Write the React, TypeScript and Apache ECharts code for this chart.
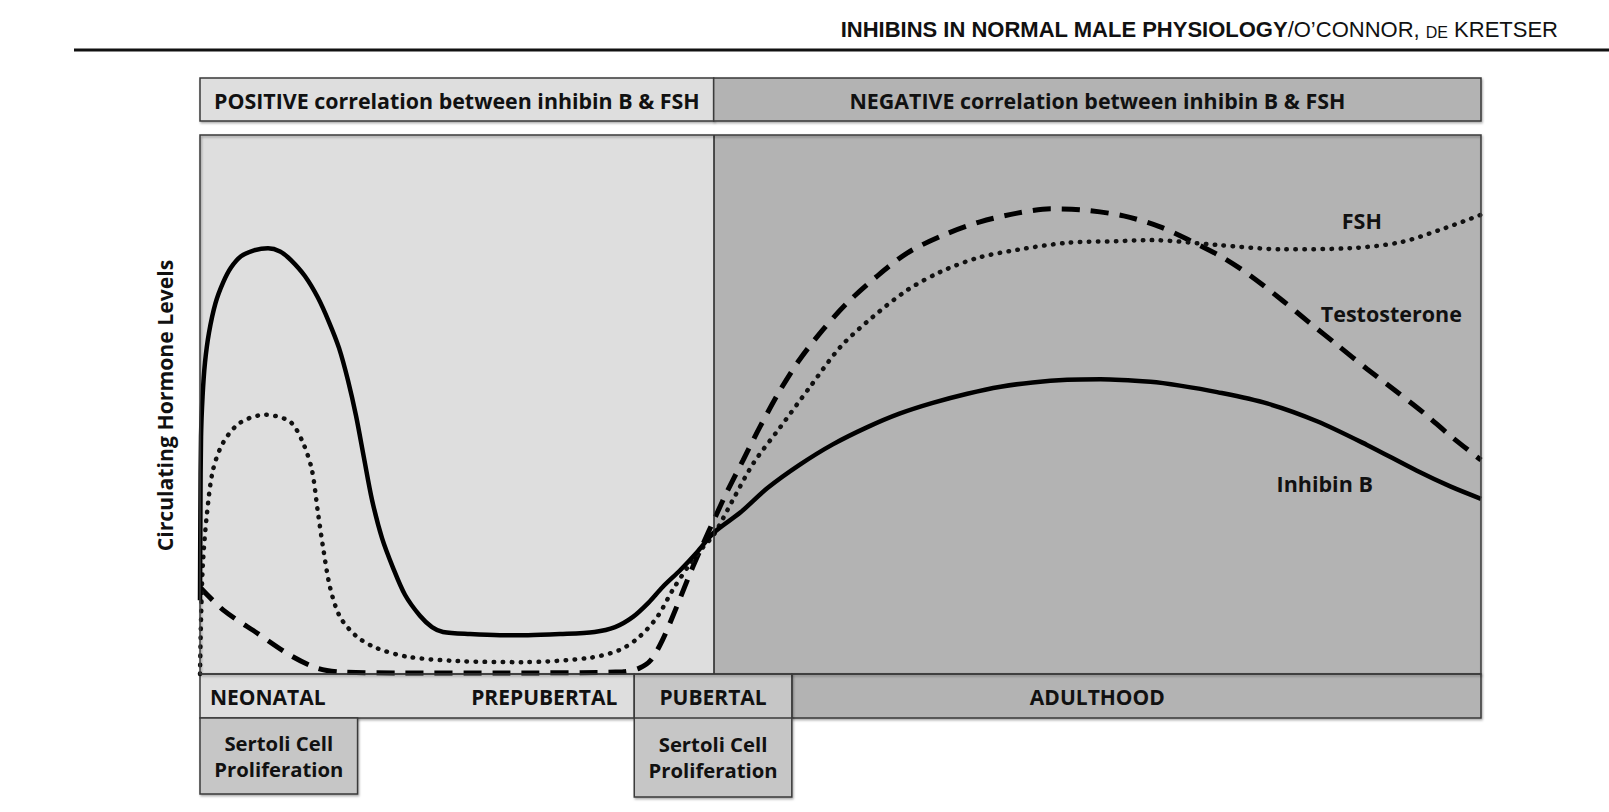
import React, { useEffect, useRef } from "react";
import * as echarts from "echarts";

// Phase boundaries on the shared 0–100 life-course axis
const positiveEnd = 40.1; // end of positive correlation / start of negative
const prepubertalEnd = 33.9;
const pubertalEnd = 46.2;
const sertoliEarlyEnd = 12.3;

const inhibinB: [number, number][] = [
  [0, 13.7], [0.03, 30], [0.08, 44], [0.2, 51.5], [0.39, 57.8], [0.7, 63.3], [1.21, 68.8], [1.8, 72.6],
  [2.42, 75.4], [3.2, 77.5], [4.22, 78.6], [5.31, 79], [6.25, 78.4], [7.1, 76.8], [8.2, 73.8], [9.21, 69.8],
  [10.07, 65.3], [10.85, 60.5], [11.55, 54.5], [12.18, 47.9], [12.8, 40.1], [13.43, 32.3], [14.21, 25.2],
  [15.07, 19.7], [16, 14.7], [17.17, 10.8], [18.11, 8.7], [18.97, 7.8], [21.08, 7.4], [23.42, 7.2],
  [25.6, 7.2], [28.1, 7.4], [30.8, 7.8], [32.4, 8.7], [33.8, 10.6], [35, 13.2], [36.1, 16.1], [37.5, 19.3],
  [38.8, 22.6], [40.1, 26.2], [42.2, 30], [44.3, 34.5], [46.8, 38.8], [49.4, 42.6], [52.1, 45.8],
  [54.6, 48.3], [57.2, 50.3], [59.9, 52], [62.5, 53.3], [65, 54.1], [67.7, 54.6], [70.3, 54.7],
  [74.2, 54.2], [76.5, 53.5], [79.4, 52.3], [83.3, 50.2], [87.2, 46.9], [91.1, 42.5], [95, 37.7],
  [97.6, 34.8], [100, 32.5],
];

const testosterone: [number, number][] = [
  [0, 16.1], [1.8, 11.9], [4.45, 7.6], [7.03, 3.5], [9.13, 1.1], [10.9, 0.4], [15.6, 0.2], [23.4, 0.2],
  [33, 0.4], [34.3, 1.1], [35.2, 2.6], [36.1, 6.3], [37.2, 12.4], [38.3, 18.9], [39.3, 24.3], [40.2, 29],
  [41.1, 33.6], [42.4, 39.7], [43.7, 45.8], [45.3, 52.7], [46.8, 58.3], [48.6, 63.8], [50.5, 68.8],
  [52.8, 73.7], [55.2, 78.1], [58, 81.4], [60.9, 83.9], [63.8, 85.5], [66.4, 86.3], [68.9, 86.1],
  [72.1, 85], [74.9, 83], [77.3, 80.4], [79.9, 77.2], [82, 73.9], [84.5, 69.3], [86.6, 65.2],
  [88.8, 61], [91.1, 56.6], [93.4, 52.4], [95.5, 48.5], [97.6, 44.2], [100, 39.7],
];

const fsh: [number, number][] = [
  [0, 0], [0.08, 10], [0.23, 20.6], [0.55, 29.9], [1.01, 37.8], [1.8, 42.9], [3.12, 46.6], [5.07, 48.1],
  [7.03, 46.8], [8.04, 42.9], [8.74, 37.8], [9.21, 29.9], [9.6, 23.6], [10.15, 16.1], [10.93, 10.6],
  [12.26, 6.9], [13.8, 4.8], [16.2, 3.2], [20.1, 2.4], [25.2, 2.2], [30.4, 3], [32.8, 4.5], [34.3, 6.9],
  [35.7, 10.6], [36.9, 15.6], [38.3, 20.6], [39.3, 23.6], [40.1, 25.8], [41.6, 32.3], [43.2, 39.1],
  [45.3, 45.8], [47.6, 53.2], [50, 60.7], [52.5, 66.2], [55.2, 71.2], [57.8, 74.6], [60.7, 77.2],
  [63.8, 78.7], [67.7, 80], [71.6, 80.3], [74.2, 80.5], [79.4, 79.6], [84.5, 78.8], [89.8, 79],
  [93.7, 80.1], [96.8, 82.4], [100, 85.2],
];

const curveLabels = [
  { name: "FSH", x: 90.7, y: 84.2 },
  { name: "Testosterone", x: 93.0, y: 66.8 },
  { name: "Inhibin B", x: 87.8, y: 35.3 },
];

const correlationLabels = [
  "POSITIVE correlation between inhibin B & FSH",
  "NEGATIVE correlation between inhibin B & FSH",
];
const phaseLabels = ["NEONATAL", "PREPUBERTAL", "PUBERTAL", "ADULTHOOD"];
const sertoliLabel = "Sertoli Cell\nProliferation";
const yAxisTitle = "Circulating Hormone Levels";
const headerBold = "INHIBINS IN NORMAL MALE PHYSIOLOGY";
const headerRest = ["/O\u2019CONNOR, ", "DE", " KRETSER"];

const FONT = "'Open Sans', 'Noto Sans', sans-serif";
const HFONT = "'Liberation Sans', Arial, sans-serif";
const LIGHT = "#dedede";
const MID = "#c6c6c6";
const DARK = "#b3b3b3";
const EDGE = "#3a3a3a";

export default function App() {
  const ref = useRef<HTMLDivElement>(null);

  useEffect(() => {
    if (!ref.current) return;
    const chart = echarts.init(ref.current, undefined, { renderer: "svg" });

    const lineBase = { type: "line" as const, smooth: 0.3, symbol: "none", clip: false, silent: true };

    chart.setOption({
      animation: false,
      grid: { left: 200, top: 135, width: 1281, height: 539, show: false },
      xAxis: { type: "value", min: 0, max: 100, show: false },
      yAxis: { type: "value", min: 0, max: 100, show: false },
      series: [
        {
          ...lineBase,
          name: "Inhibin B",
          data: inhibinB,
          z: 4,
          lineStyle: { color: "#000", width: 4.5, type: "solid" },
          markArea: {
            silent: true,
            z: 1,
            data: [
              [{ xAxis: 0, itemStyle: { color: LIGHT } }, { xAxis: positiveEnd }],
              [{ xAxis: positiveEnd, itemStyle: { color: DARK } }, { xAxis: 100 }],
            ],
          },
          markLine: {
            silent: true,
            symbol: "none",
            label: { show: false },
            lineStyle: { color: "#222", width: 1.5, type: "solid" },
            data: [{ xAxis: positiveEnd }],
          },
        },
        {
          ...lineBase,
          name: "Testosterone",
          data: testosterone,
          z: 3,
          lineStyle: { color: "#000", width: 5, type: [18, 11], cap: "butt" },
        },
        {
          ...lineBase,
          name: "FSH",
          data: fsh,
          z: 3,
          lineStyle: { color: "#111", width: 4.5, type: [0.5, 8.5], cap: "round" },
        },
      ],
    });

    const px = (v: number) => chart.convertToPixel({ xAxisIndex: 0 }, v) as number;
    const py = (v: number) => chart.convertToPixel({ yAxisIndex: 0 }, v) as number;

    const x0 = px(0);
    const x1 = px(100);
    const xDiv = px(positiveEnd);
    const xPre = px(prepubertalEnd);
    const xPub = px(pubertalEnd);
    const xSer = px(sertoliEarlyEnd);
    const yTop = py(100);
    const yBot = py(0);

    const bandTop = 78;
    const bandTopH = 43;
    const bandBotH = 44;
    const boxH = 76;

    const shadow = { shadowBlur: 2, shadowOffsetX: 1, shadowOffsetY: 1.5, shadowColor: "rgba(0,0,0,0.35)" };
    const rect = (x: number, y: number, w: number, h: number, fill: string, z = 1, extra: any = {}) => ({
      type: "rect",
      z,
      silent: true,
      shape: { x, y, width: w, height: h },
      style: { fill, stroke: EDGE, lineWidth: 1.5, ...extra },
    });
    const txt = (text: string, x: number, y: number, size: number, align = "center", extra: any = {}) => ({
      type: "text",
      z: 20,
      silent: true,
      x,
      y,
      style: {
        text,
        fill: "#111",
        font: `bold ${size}px ${FONT}`,
        align,
        verticalAlign: "middle",
        ...extra,
      },
    });

    const graphics: any[] = [
      // header
      {
        type: "text",
        z: 20,
        x: 1558,
        y: 28,
        style: {
          text: `{b|${headerBold}}{r|${headerRest[0]}}{s|${headerRest[1]}}{r|${headerRest[2]}}`,
          align: "right",
          verticalAlign: "middle",
          fill: "#111",
          rich: {
            b: { font: `bold 22px ${HFONT}`, fill: "#111", verticalAlign: "bottom", lineHeight: 24 },
            r: { font: `22px ${HFONT}`, fill: "#111", verticalAlign: "bottom", lineHeight: 24 },
            s: { font: `16px ${HFONT}`, fill: "#111", verticalAlign: "bottom", lineHeight: 22 },
          },
        },
      },
      { type: "line", z: 20, shape: { x1: 74, y1: 50, x2: 1609, y2: 50 }, style: { stroke: "#111", lineWidth: 3 } },

      // top correlation band
      rect(x0, bandTop, xDiv - x0, bandTopH, LIGHT, 1, { ...shadow }),
      rect(xDiv, bandTop, x1 - xDiv, bandTopH, DARK, 1, { ...shadow }),
      txt(correlationLabels[0], (x0 + xDiv) / 2, bandTop + bandTopH / 2 + 1, 21.4),
      txt(correlationLabels[1], (xDiv + x1) / 2, bandTop + bandTopH / 2 + 1, 21.4),

      // plot frame
      { type: "rect", z: 15, silent: true, shape: { x: x0, y: yTop, width: x1 - x0, height: yBot - yTop }, style: { fill: "none", stroke: EDGE, lineWidth: 1.5, ...shadow } },

      // bottom phase band
      rect(x0, yBot, xPre - x0, bandBotH, LIGHT, 1, { ...shadow }),
      rect(xPub, yBot, x1 - xPub, bandBotH, DARK, 1, { ...shadow }),
      rect(x0, yBot + bandBotH, xSer - x0, boxH, MID, 1, { ...shadow }),
      rect(xPre, yBot, xPub - xPre, bandBotH + boxH + 3, MID, 2, { ...shadow }),
      { type: "line", z: 3, shape: { x1: xPre, y1: yBot + bandBotH, x2: xPub, y2: yBot + bandBotH }, style: { stroke: EDGE, lineWidth: 1.5 } },

      txt(phaseLabels[0], x0 + 10, yBot + bandBotH / 2 + 1, 21, "left"),
      txt(phaseLabels[1], xPre - 17, yBot + bandBotH / 2 + 1, 21, "right"),
      txt(phaseLabels[2], (xPre + xPub) / 2, yBot + bandBotH / 2 + 1, 21),
      txt(phaseLabels[3], (xDiv + x1) / 2, yBot + bandBotH / 2 + 1, 21),

      txt(sertoliLabel, (x0 + xSer) / 2, yBot + bandBotH + boxH / 2, 20.3, "center", { lineHeight: 26 }),
      txt(sertoliLabel, (xPre + xPub) / 2, yBot + bandBotH + boxH / 2 + 1, 20.3, "center", { lineHeight: 26 }),

      // y axis title
      { ...txt(yAxisTitle, 164, (yTop + yBot) / 2 + 1, 21.2), rotation: Math.PI / 2 },
    ];

    curveLabels.forEach((c) => {
      graphics.push(txt(c.name, px(c.x), py(c.y), 21.5));
    });

    chart.setOption({ graphic: graphics });

    return () => chart.dispose();
  }, []);

  return (
    <div
      ref={ref}
      style={{ position: "fixed", left: 0, top: 0, width: 1609, height: 812, background: "#fff" }}
    />
  );
}
